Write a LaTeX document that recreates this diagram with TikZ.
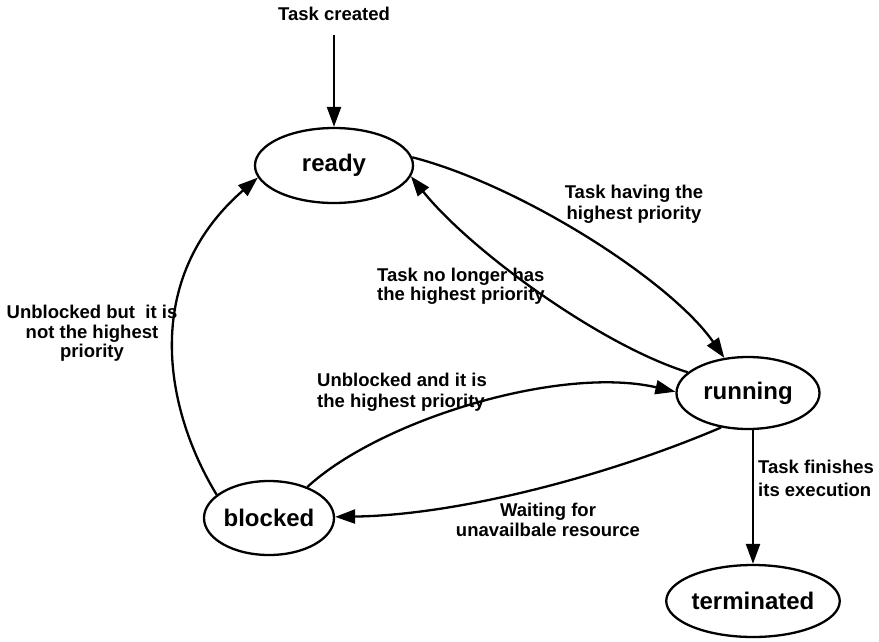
\documentclass[tikz,border=0pt]{standalone}
\usepackage{fontspec}
\setmainfont{Liberation Sans}
\usetikzlibrary{shapes.geometric,arrows.meta}
\begin{document}
\begin{tikzpicture}[x=1pt,y=-1pt,
  state/.style={ellipse,draw,line width=2.3pt,inner sep=0pt,
    font=\fontsize{24}{28}\selectfont\bfseries},
  lbl/.style={inner sep=0pt,font=\fontsize{18.5}{21}\selectfont\bfseries},
  edge/.style={line width=2.3pt,-{Triangle[length=20pt,width=14pt]}}]
\useasboundingbox (0,0) rectangle (879,641);

% task states
\node[state,minimum width=158pt,minimum height=75pt] (ready) at (334,165.5) {ready};
\node[state,minimum width=143pt,minimum height=72pt] (running) at (748,393) {running};
\node[state,minimum width=130pt,minimum height=74pt] (blocked) at (269,518) {blocked};
\node[state,minimum width=155pt,minimum height=72pt] (terminated) at (753,601) {terminated};

% creation
\node[lbl,anchor=south,inner ysep=14pt] (created) at (334,35) {Task created};
\draw[edge] (created.south) -- (ready.north);

% transitions between states
\draw[edge] (ready.6.3) .. controls (520,185) and (670,280) .. (running.124.6);
\draw[edge] (running.161.7) .. controls (600,345) and (470,250) .. (ready.-8.3);
\draw[edge] (blocked.39.2) .. controls (380,420) and (560,365) .. (running.179);
\draw[edge] (running.232.6) .. controls (610,475) and (460,515) .. (blocked.1);
\draw[edge] (blocked.156.9) .. controls (165,410) and (140,280) .. (ready.189.2);
\draw[edge] (running.south -| terminated.north) -- (terminated.north);

% transition labels
\node[lbl,anchor=north,align=center] (lhave) at (634,185) {Task having the\\highest priority};
\node[lbl,anchor=north west,align=left,font=\fontsize{18.5}{19}\selectfont\bfseries] (lnolonger) at (377,268) {Task no longer has\\the highest priority};
\node[lbl,anchor=north,align=center,font=\fontsize{18.5}{19.5}\selectfont\bfseries] (lbut) at (92,305) {Unblocked but\ \ it is\\not the highest\\priority};
\node[lbl,anchor=north west,align=left] (land) at (317,373) {Unblocked and it is\\the highest priority};
\node[lbl,anchor=north,align=center,font=\fontsize{18.5}{20}\selectfont\bfseries] (lwait) at (548,503) {Waiting for\\unavailbale resource};
\node[lbl,anchor=north west,align=left,font=\fontsize{18.5}{22.5}\selectfont\bfseries] (lfinish) at (758,460) {Task finishes\\its execution};
\end{tikzpicture}
\end{document}
